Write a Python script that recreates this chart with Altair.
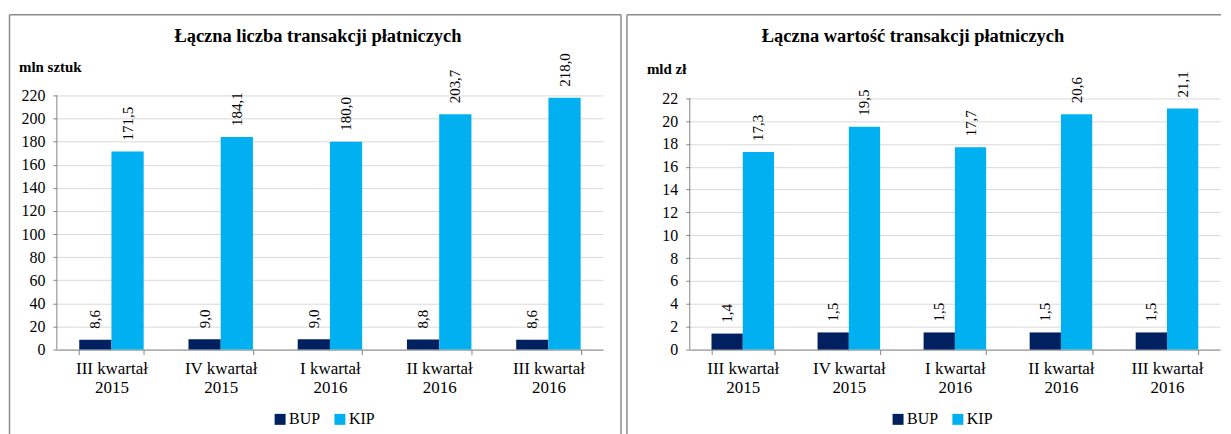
import altair as alt
import pandas as pd

categories = ["III kwartał\n2015", "IV kwartał\n2015", "I kwartał\n2016",
              "II kwartał\n2016", "III kwartał\n2016"]
series = ["BUP", "KIP"]
colors = ["#002060", "#00B0F0"]

count_bup = [8.6, 9.0, 9.0, 8.8, 8.6]
count_kip = [171.5, 184.1, 180.0, 203.7, 218.0]
value_bup = [1.4, 1.5, 1.5, 1.5, 1.5]
value_kip = [17.3, 19.5, 17.7, 20.6, 21.1]

count_ticks = [0, 20, 40, 60, 80, 100, 120, 140, 160, 180, 200, 220]
value_ticks = [0, 2, 4, 6, 8, 10, 12, 14, 16, 18, 20, 22]

title_left = "Łączna liczba transakcji płatniczych"
title_right = "Łączna wartość transakcji płatniczych"
unit_left = "mln sztuk"
unit_right = "mld zł"

FONT = "'Liberation Serif', 'Times New Roman', 'DejaVu Serif', serif"
AXIS_GRAY = "#868686"
BORDER = "#8c8c8c"


def panel(title, unit, bup, kip, ticks, ymax, W, H, g):
    df = pd.DataFrame({
        "cat": categories * 2,
        "series": [series[0]] * len(bup) + [series[1]] * len(kip),
        "value": bup + kip,
    })
    yscale = alt.Scale(domain=[0, ymax], nice=False)
    yaxis = alt.Axis(title=None, values=ticks, format="d",
                     grid=True, gridColor="#d9d9d9", domain=False,
                     tickColor=AXIS_GRAY, labelOverlap=False,
                     labelFlush=False,
                     tickSize=4, labelPadding=8,
                     labelFont=FONT, labelFontSize=16,
                     labelColor="#000000")
    base = alt.Chart(df).encode(
        x=alt.X("cat:N", sort=categories,
                scale=alt.Scale(paddingInner=0.41, paddingOuter=0.205),
                axis=alt.Axis(title=None, labelAngle=0, grid=False,
                              labelExpr="split(datum.label, '\\n')",
                              tickBand="extent", tickSize=5,
                              labelOverlap=False,
                              domainColor=AXIS_GRAY, tickColor=AXIS_GRAY,
                              labelFont=FONT, labelFontSize=17,
                              labelLineHeight=19.5, labelPadding=6,
                              labelColor="#000000", labelLimit=300)),
        xOffset=alt.XOffset("series:N", sort=series,
                            scale=alt.Scale(paddingInner=0, paddingOuter=0)),
        y=alt.Y("value:Q", scale=yscale, axis=yaxis),
    )
    bars = base.mark_bar().encode(
        color=alt.Color("series:N", sort=series,
                        scale=alt.Scale(domain=series, range=colors),
                        legend=alt.Legend(title=None, orient="none",
                                          direction="horizontal",
                                          legendX=g["lx"], legendY=g["ly"],
                                          symbolType="square", symbolSize=121,
                                          symbolStrokeWidth=0,
                                          symbolOpacity=1,
                                          labelFont=FONT, labelFontSize=16,
                                          labelColor="#000000",
                                          labelOffset=1, columnPadding=11,
                                          padding=0))
    )
    labels = base.transform_calculate(
        lab="replace(format(datum.value, '.1f'), '.', ',')"
    ).mark_text(angle=270, align="left", baseline="middle", dx=11,
                font=FONT, fontSize=15, color="#000000").encode(text="lab:N")

    # vertical axis line from 0 up to the top tick
    span = pd.DataFrame({"lo": [0], "value": [ticks[-1]]})
    yaxis_line = alt.Chart(span).mark_rule(color=AXIS_GRAY, strokeWidth=1).encode(
        x=alt.value(0), y=alt.Y("value:Q", scale=yscale, axis=yaxis),
        y2=alt.Y2("lo"))

    one = pd.DataFrame({"k": [0]})
    rule = alt.Chart(one).mark_rule(color=BORDER, strokeWidth=1.5)
    layers = [
        rule.encode(x=alt.value(g["bx0"]), x2=alt.value(g["bx1"]),
                    y=alt.value(g["by0"])),
        rule.encode(x=alt.value(g["bx0"]), y=alt.value(g["by0"]),
                    y2=alt.value(g["by1"])),
    ]
    if g.get("right", False):
        layers.append(rule.encode(x=alt.value(g["bx1"]), y=alt.value(g["by0"]),
                                  y2=alt.value(g["by1"])))
    t = alt.Chart(pd.DataFrame({"t": [title]})).mark_text(
        font=FONT, fontWeight="bold", fontSize=18.5, align="center",
        baseline="middle", color="#000000"
    ).encode(text="t:N", x=alt.value(g["tx"]), y=alt.value(g["ty"]))
    u = alt.Chart(pd.DataFrame({"t": [unit]})).mark_text(
        font=FONT, fontWeight="bold", fontSize=15, align="left",
        baseline="middle", color="#000000"
    ).encode(text="t:N", x=alt.value(g["ux"]), y=alt.value(g["uy"]))
    layers += [t, u, bars, labels, yaxis_line]
    return alt.layer(*layers).properties(width=W, height=H)


# both plots share the same top edge in the concat row; the right one maps
# its 22 gridline 3px lower, as in the reference
left = panel(title_left, unit_left, count_bup, count_kip, count_ticks, 220,
             548, 255,
             dict(bx0=-47.5, bx1=566, by0=-81, by1=342, right=True,
                  tx=262, ty=-60, ux=-38, uy=-29, lx=216, ly=317))
right = panel(title_right, unit_right, value_bup, value_kip, value_ticks,
              22.24, 532, 255,
              dict(bx0=-63, bx1=533, by0=-81, by1=342, right=False,
                   tx=224, ty=-60, ux=-43, uy=-26, lx=201, ly=317))

chart = alt.hconcat(left, right, spacing=2).resolve_scale(
    color="independent", x="independent", y="independent",
    xOffset="independent"
).resolve_legend(color="independent").configure_view(
    stroke="transparent"
).properties(padding={"left": 0, "top": 4, "right": 0, "bottom": 0},
             background="white")

chart.save("out.html", embed_options={"renderer": "svg", "actions": False})
